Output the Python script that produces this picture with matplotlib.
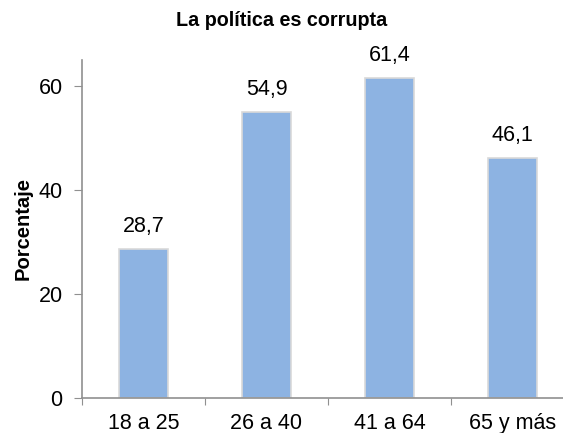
import numpy as np
from matplotlib import pyplot as plt

categorias = ['18 a 25', '26 a 40', '41 a 64', '65 y más']
valores = [28.7, 54.9, 61.4, 46.1]
etiquetas = ['28,7', '54,9', '61,4', '46,1']

plt.rcParams['font.family'] = ['Liberation Sans', 'DejaVu Sans']

fig = plt.figure(figsize=(5.63, 4.33), dpi=100)
ax = fig.add_axes([82 / 563, 35 / 433, 492 / 563, 338.5 / 433])

x = np.arange(len(categorias))
ax.bar(x, valores, width=0.4, color='#8DB3E2', edgecolor='#D9D9D9', linewidth=1.2, zorder=2)

for xi, v, t in zip(x, valores, etiquetas):
    ax.text(xi, v + 2.3, t, ha='center', va='bottom', fontsize=15.5)

ax.set_xlim(-0.5, 3.5)
ax.set_ylim(0, 65)
ax.set_yticks([0, 20, 40, 60])
ax.set_xticks([-0.5, 0.5, 1.5, 2.5])
ax.set_xticklabels([])
ax.set_xticks(x, minor=True)
ax.set_xticklabels(categorias, minor=True)
ax.tick_params(axis='x', which='minor', length=0, labelsize=15.5, pad=11)
ax.tick_params(axis='x', which='major', length=5, direction='out', color='#909090')
ax.tick_params(axis='y', length=6, direction='out', color='#909090', labelsize=15.5, pad=8)

for s in ['top', 'right']:
    ax.spines[s].set_visible(False)
for s in ['left', 'bottom']:
    ax.spines[s].set_color('#909090')
    ax.spines[s].set_linewidth(1.2)

ax.set_ylabel('Porcentaje', fontsize=14.5, fontweight='bold', labelpad=4)
fig.text(0.5, 1 - 20 / 433, 'La política es corrupta', ha='center', va='center',
         fontsize=14.2, fontweight='bold')

fig.savefig('out.png', dpi=100)
